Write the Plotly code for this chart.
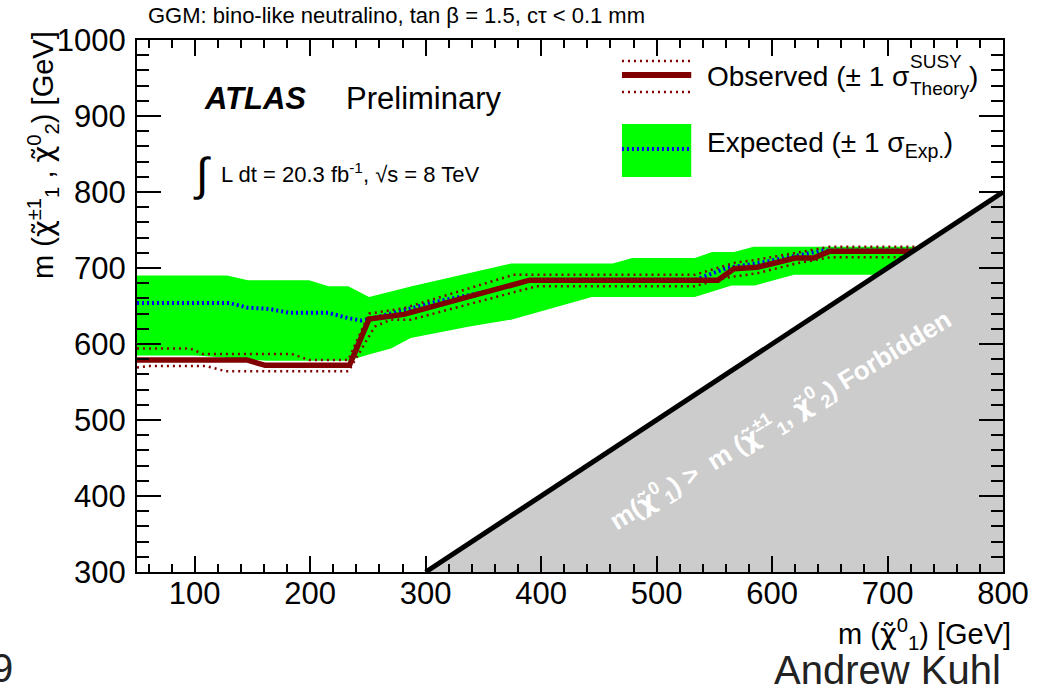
import plotly.graph_objects as go

# ---------------- data (GeV) ----------------
exp_up_x = [50, 128, 146, 199, 216, 233, 251, 288, 374, 462, 479, 533, 548, 567, 584, 725]
exp_up_y = [690, 690, 684, 684, 676, 676, 662, 676, 706, 706, 713, 713, 721, 721, 728, 728]
exp_dn_x = [50, 101, 162, 233, 250, 270, 287, 338, 374, 444, 533, 565, 585, 619, 725]
exp_dn_y = [585, 585, 578, 578, 586, 594, 608, 623, 632, 662, 662, 677, 677, 691, 691]

exp_x = [50, 130, 145, 165, 182, 216, 233, 244, 252, 281, 310, 353, 390, 533, 561, 587, 615, 644, 725]
exp_y = [654, 654, 648, 646, 641, 641, 634, 631, 633, 644, 656, 669, 684, 684, 700, 706, 714, 723, 723]

obs_x = [50, 145, 161, 234, 251, 281, 390, 533, 553, 567, 587, 620, 636, 650, 725]
obs_y = [579, 579, 572, 572, 633, 639, 684, 685, 684, 699, 701, 713, 713, 722, 722]

obs_up_x = [50, 96, 107, 184, 199, 233, 251, 281, 376, 533, 568, 587, 621, 650, 725]
obs_up_y = [594, 594, 587, 587, 579, 579, 640, 647, 691, 691, 707, 711, 720, 728, 728]

obs_dn_x = [50, 60, 110, 127, 233, 256, 270, 287, 396, 533, 559, 587, 621, 650, 725]
obs_dn_y = [569, 571, 571, 564, 564, 623, 632, 632, 676, 676, 687, 693, 706, 714, 714]

forbid_x = [300, 800]
forbid_y = [300, 800]

x_ticks = [100, 200, 300, 400, 500, 600, 700, 800]
y_ticks = [300, 400, 500, 600, 700, 800, 900, 1000]

FONT = "Liberation Sans, Arial, Helvetica, sans-serif"
DRED = "#800000"
CHI = '<span style="font-family:DejaVu Sans">\u03c7\u0303</span>'

# ---------------- helpers for paper positions ----------------
L, R, T, B = 137, 29, 40, 121
W, H = 1041 - L - R, 693 - T - B


def PX(px):
    return (px - L) / W


def PY(py):
    return (693 - B - py) / H


fig = go.Figure()

# expected band
fig.add_trace(go.Scatter(
    x=exp_up_x + exp_dn_x[::-1], y=exp_up_y + exp_dn_y[::-1],
    fill="toself", fillcolor="#00ff00", line=dict(width=0), mode="lines",
    hoverinfo="skip", showlegend=False))
# expected median
fig.add_trace(go.Scatter(x=exp_x, y=exp_y, mode="lines",
                         line=dict(color="#0000ff", width=4, dash="2px,3px"), showlegend=False))
# observed +/- 1 sigma theory
fig.add_trace(go.Scatter(x=obs_up_x, y=obs_up_y, mode="lines",
                         line=dict(color=DRED, width=2.5, dash="2px,4px"), showlegend=False))
fig.add_trace(go.Scatter(x=obs_dn_x, y=obs_dn_y, mode="lines",
                         line=dict(color=DRED, width=2.5, dash="2px,4px"), showlegend=False))
# observed
fig.add_trace(go.Scatter(x=obs_x, y=obs_y, mode="lines",
                         line=dict(color=DRED, width=5.5), showlegend=False))
# forbidden region
fig.add_trace(go.Scatter(
    x=[forbid_x[0], forbid_x[1], forbid_x[1], forbid_x[0]],
    y=[forbid_y[0], forbid_y[1], forbid_y[0], forbid_y[0]],
    fill="toself", fillcolor="#cccccc", line=dict(width=0), mode="lines",
    hoverinfo="skip", showlegend=False))
fig.add_trace(go.Scatter(x=forbid_x, y=forbid_y, mode="lines",
                         line=dict(color="black", width=5), showlegend=False))

axis_common = dict(
    showgrid=False, zeroline=False, showline=True, linecolor="black", linewidth=2,
    mirror="allticks", ticks="inside", tickcolor="black", tickwidth=1.5,
    tickfont=dict(family=FONT, size=31, color="black"),
)
fig.update_xaxes(range=[50, 800], tickvals=x_ticks, ticklen=16, ticklabelstandoff=-7,
                 minor=dict(dtick=20, tick0=0, ticks="inside", ticklen=8, tickcolor="black", tickwidth=1.5),
                 **axis_common)
fig.update_yaxes(range=[300, 1000], tickvals=y_ticks, ticklen=24, ticklabelstandoff=3,
                 minor=dict(dtick=20, tick0=0, ticks="inside", ticklen=12, tickcolor="black", tickwidth=1.5),
                 **axis_common)

ann = []


def txt(text, px, py, size, xanchor="left", yanchor="middle", color="black", angle=0):
    ann.append(dict(text=text, x=PX(px), y=PY(py), xref="paper", yref="paper",
                    xanchor=xanchor, yanchor=yanchor, showarrow=False, textangle=angle,
                    font=dict(family=FONT, size=size, color=color)))


txt("GGM: bino-like neutralino, tan \u03b2 = 1.5, c\u03c4 < 0.1 mm", 146, 16, 22)
txt("<b><i>ATLAS</i></b>", 203, 99, 31)
txt("Preliminary", 346, 99, 31)
txt("\u222b", 192, 174, 46)
txt("L dt = 20.3 fb<sup>-1</sup>, \u221as = 8 TeV", 220, 173, 22)

# legend
txt("Observed (\u00b1 1 \u03c3", 711, 76, 28)
txt("SUSY", 916, 62, 19)
txt("Theory", 916, 88, 19)
txt(")", 976, 76, 28)
txt("Expected (\u00b1 1 \u03c3<sub>Exp.</sub>)", 711, 144, 28)

# axis titles
txt("m (" + CHI + "<sup>0</sup><sub>1</sub>) [GeV]", 1022, 634, 29, xanchor="right")
txt("m (" + CHI + "<sup>\u00b11</sup><sub>1</sub> , " + CHI + "<sup>0</sup><sub>2</sub>) [GeV]",
    42, 155, 29, xanchor="center", angle=-90)

# forbidden label
txt("<b>m(" + CHI + "<sup>0</sup><sub>1</sub>) >  m (" + CHI + "<sup>\u00b11</sup><sub>1</sub>, "
    + CHI + "<sup>0</sup><sub>2</sub>) Forbidden</b>", 787, 420, 26, xanchor="center",
    color="white", angle=-31.5)

# footer
txt("Andrew Kuhl", 1012, 670, 40, xanchor="right", color="#222222")
txt("9", -13, 668, 40, color="#222222")

shapes = [
    dict(type="line", xref="paper", yref="paper", x0=PX(627), x1=PX(697), y0=PY(61), y1=PY(61),
         line=dict(color=DRED, width=2.5, dash="2px,4px")),
    dict(type="line", xref="paper", yref="paper", x0=PX(627), x1=PX(697), y0=PY(75), y1=PY(75),
         line=dict(color=DRED, width=6)),
    dict(type="line", xref="paper", yref="paper", x0=PX(627), x1=PX(697), y0=PY(92), y1=PY(92),
         line=dict(color=DRED, width=2.5, dash="2px,4px")),
    dict(type="rect", xref="paper", yref="paper", x0=PX(627), x1=PX(697), y0=PY(177), y1=PY(124),
         fillcolor="#00ff00", line=dict(width=0)),
    dict(type="line", xref="paper", yref="paper", x0=PX(627), x1=PX(697), y0=PY(149), y1=PY(149),
         line=dict(color="#0000ff", width=4, dash="2px,3px")),
]

fig.update_layout(
    width=1041, height=693, autosize=False,
    margin=dict(l=L, r=R, t=T, b=B),
    paper_bgcolor="white", plot_bgcolor="white",
    annotations=ann, shapes=shapes, showlegend=False,
    font=dict(family=FONT),
)

fig.write_html("out.html")
